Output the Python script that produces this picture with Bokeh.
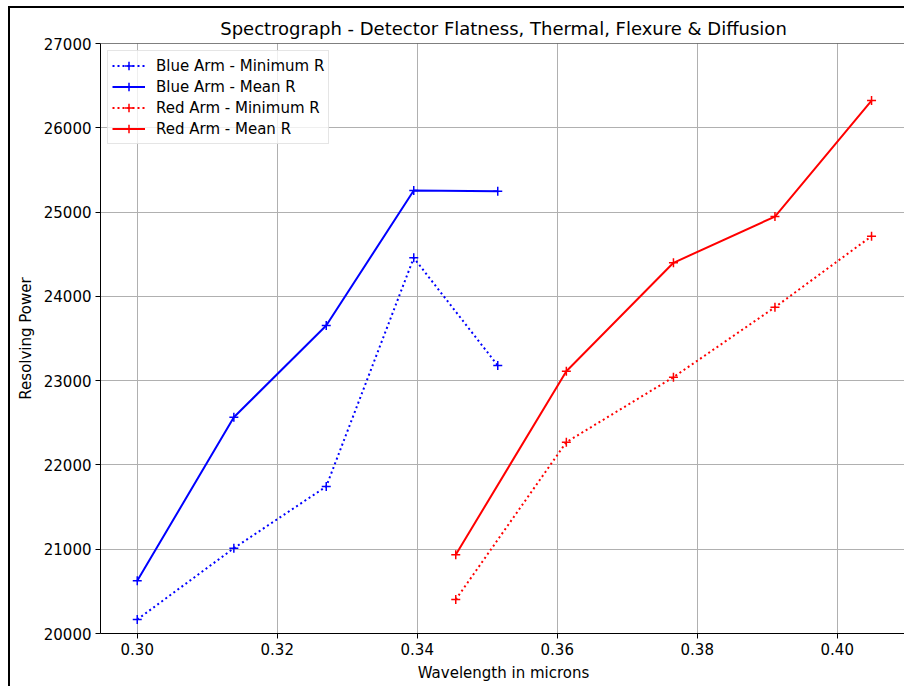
from bokeh.plotting import figure
from bokeh.models import Range1d, FixedTicker, NumeralTickFormatter, Span
from bokeh.embed import file_html
from bokeh.resources import INLINE

# ---- data ----
blue_wl = [0.3000, 0.3138, 0.3270, 0.3395, 0.3515]
blue_min_r = [20166, 21012, 21744, 24457, 23180]
blue_mean_r = [20625, 22566, 23654, 25256, 25247]

red_wl = [0.3455, 0.3613, 0.3766, 0.3911, 0.4049]
red_min_r = [20403, 22270, 23041, 23871, 24714]
red_mean_r = [20934, 23112, 24398, 24947, 26323]

x_ticks = [0.30, 0.32, 0.34, 0.36, 0.38, 0.40]
y_ticks = [20000, 21000, 22000, 23000, 24000, 25000, 26000, 27000]

FONT = "DejaVu Sans"

p = figure(width=896, height=680, output_backend="svg", toolbar_location=None,
           title="Spectrograph - Detector Flatness, Thermal, Flexure & Diffusion",
           x_range=Range1d(0.29475, 0.29475 + 806 / 7000), y_range=Range1d(20000, 27000),
           min_border_left=90, min_border_right=0, min_border_top=35, min_border_bottom=55)
p.margin = (6, 0, 0, 8)
p.styles = {"border-left": "2px solid black", "border-top": "2px solid black"}

p.background_fill_color = "white"
p.border_fill_color = "white"
p.outline_line_color = None

p.title.text_font = FONT
p.title.text_font_size = "18px"
p.title.text_font_style = "normal"
p.title.text_color = "black"
p.title.align = "center"

p.xaxis.ticker = FixedTicker(ticks=x_ticks)
p.yaxis.ticker = FixedTicker(ticks=y_ticks)
p.xaxis.formatter = NumeralTickFormatter(format="0.00")
p.xaxis.axis_label = "Wavelength in microns"
p.yaxis.axis_label = "Resolving Power"
for ax in (p.xaxis, p.yaxis):
    ax.axis_label_text_font = FONT
    ax.axis_label_text_font_size = "15px"
    ax.axis_label_text_font_style = "normal"
    ax.axis_label_text_color = "black"
    ax.major_label_text_font = FONT
    ax.major_label_text_font_size = "15px"
    ax.major_label_text_color = "black"
    ax.major_tick_in = 0
    ax.major_tick_out = 5
    ax.minor_tick_line_color = None
    ax.axis_line_color = "black"
    ax.major_tick_line_color = "black"
    ax.major_label_standoff = 4
    ax.axis_label_standoff = 6

p.xgrid.ticker = FixedTicker(ticks=x_ticks)
p.ygrid.ticker = FixedTicker(ticks=y_ticks)
p.grid.grid_line_color = "#b0b0b0"
p.grid.grid_line_width = 1

p.add_layout(Span(location=27000, dimension="width", line_color="black", line_width=1))

series = [
    ("Blue Arm - Minimum R", blue_wl, blue_min_r, "blue", "dotted"),
    ("Blue Arm - Mean R", blue_wl, blue_mean_r, "blue", "solid"),
    ("Red Arm - Minimum R", red_wl, red_min_r, "red", "dotted"),
    ("Red Arm - Mean R", red_wl, red_mean_r, "red", "solid"),
]
for label, xs, ys, col, style in series:
    dash = "2 3" if style == "dotted" else "solid"
    p.line(xs, ys, line_color=col, line_width=2, line_dash=dash, legend_label=label)
    p.scatter(xs, ys, marker="cross", size=9, line_color=col, line_width=1.5, legend_label=label)

lg = p.legend[0]
lg.location = "top_left"
lg.margin = 7
lg.padding = 4
lg.spacing = 0
lg.glyph_width = 33
lg.glyph_height = 21
lg.label_height = 21
lg.label_standoff = 11
lg.label_text_font = FONT
lg.label_text_font_size = "15px"
lg.label_text_color = "black"
lg.border_line_color = "#cccccc"
lg.border_line_width = 1
lg.background_fill_color = "white"
lg.background_fill_alpha = 0.8

open("out.html", "w").write(file_html(p, INLINE))
